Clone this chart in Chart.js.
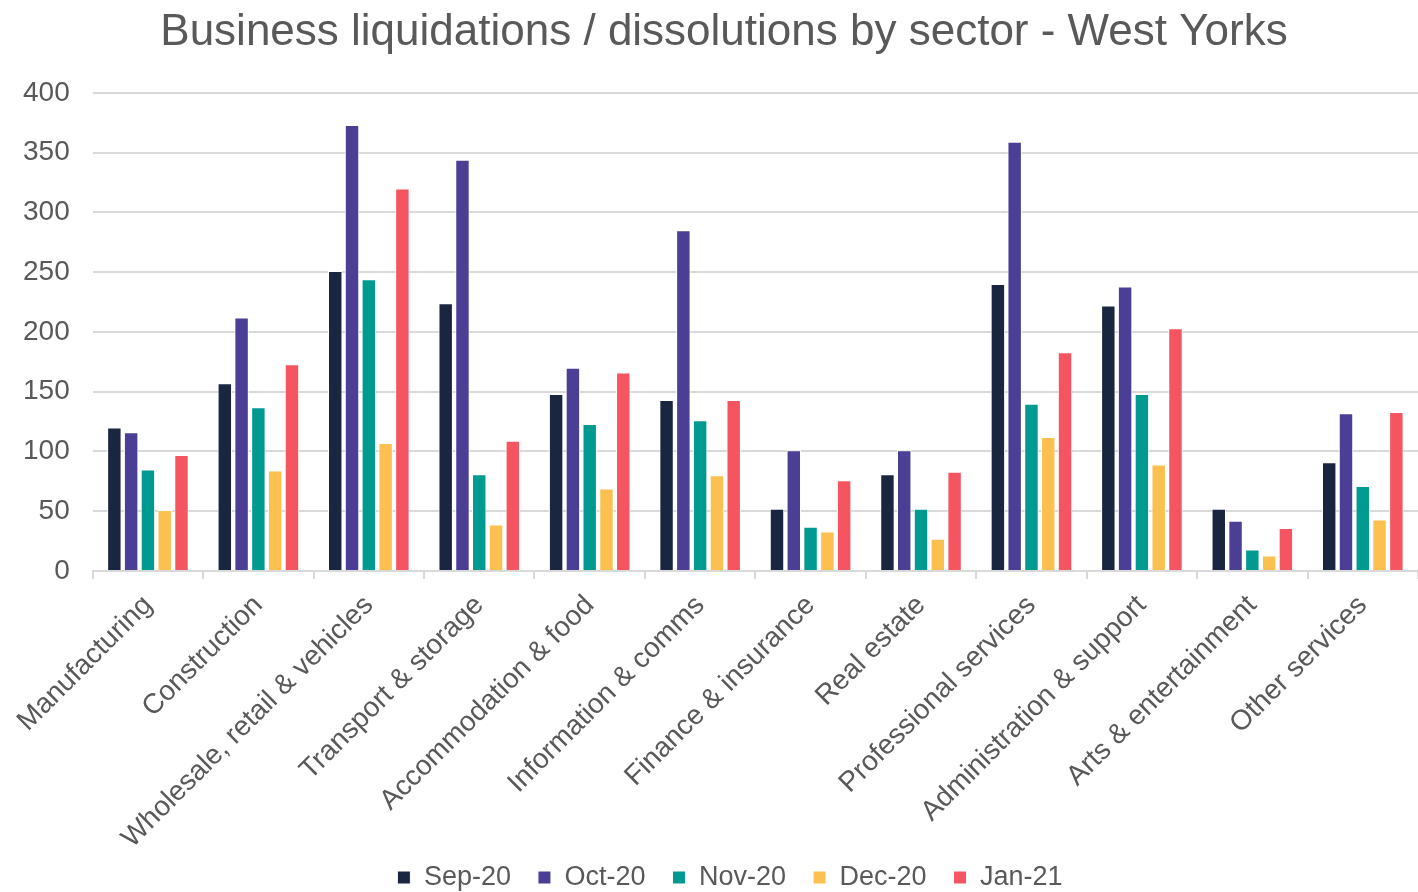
<!DOCTYPE html>
<html>
<head>
<meta charset="utf-8">
<script src="https://cdn.jsdelivr.net/npm/chart.js@4"></script>
<style>
  html, body { margin: 0; padding: 0; background: #ffffff; }
  #wrap { width: 1418px; height: 892px; }
</style>
</head>
<body>
<div id="wrap"><canvas id="chart" width="1418" height="892"></canvas></div>
<script>
// Sectors along the x axis
const sectors = [
  'Manufacturing', 'Construction', 'Wholesale, retail & vehicles', 'Transport & storage',
  'Accommodation & food', 'Information & comms', 'Finance & insurance', 'Real estate',
  'Professional services', 'Administration & support', 'Arts & entertainment', 'Other services'
];

// Monthly counts per sector
const months = ['Sep-20', 'Oct-20', 'Nov-20', 'Dec-20', 'Jan-21'];
const sep20 = [120, 157, 251, 224, 148, 143, 52, 81, 240, 222, 52, 91];
const oct20 = [116, 212, 373, 344, 170, 285, 101, 101, 359, 238, 42, 132];
const nov20 = [85, 137, 244, 81, 123, 126, 37, 52, 140, 148, 18, 71];
const dec20 = [51, 84, 107, 39, 69, 80, 33, 27, 112, 89, 13, 43];
const jan21 = [97, 173, 320, 109, 166, 143, 76, 83, 183, 203, 36, 133];

const yTicks = [0, 50, 100, 150, 200, 250, 300, 350, 400];

const seriesValues = [sep20, oct20, nov20, dec20, jan21];
const seriesColors = ['#1a2640', '#4a3f94', '#009a90', '#fbc04f', '#f55560'];

const FONT = '"Liberation Sans", Arial, sans-serif';
const TEXT = '#595959';

// Nudges the title and legend so they sit centred over the plot, and lifts the
// legend slightly so the long rotated sector labels keep their full box
const placeHeaderAndLegend = {
  id: 'placeHeaderAndLegend',
  afterLayout(chart) {
    const shift = (box, dx, dy) => {
      if (!box) return;
      box.left += dx; box.right += dx;
      box.top += dy; box.bottom += dy;
    };
    shift(chart.titleBlock, 15, 0);
    shift(chart.legend, 21, -15);
  }
};

new Chart(document.getElementById('chart'), {
  type: 'bar',
  data: {
    labels: sectors,
    datasets: months.map((m, i) => ({
      label: m,
      data: seriesValues[i],
      backgroundColor: seriesColors[i],
      borderColor: '#ffffff',
      borderWidth: 1,
      categoryPercentage: 0.76,
      barPercentage: 0.86
    }))
  },
  plugins: [placeHeaderAndLegend],
  options: {
    responsive: false,
    animation: false,
    layout: { padding: { left: 0, right: 0, top: 0, bottom: -24 } },
    plugins: {
      title: {
        display: true,
        text: 'Business liquidations / dissolutions by sector - West Yorks',
        color: TEXT,
        font: { family: FONT, size: 44, weight: 'normal' },
        padding: { top: 6, bottom: 34 }
      },
      legend: {
        position: 'bottom',
        labels: {
          color: TEXT,
          font: { family: FONT, size: 27 },
          boxWidth: 13,
          boxHeight: 13,
          padding: 27
        }
      },
      tooltip: { enabled: false }
    },
    scales: {
      x: {
        afterFit: (scale) => { scale.height = 281; },
        grid: {
          offset: true,
          drawOnChartArea: false,
          drawTicks: true,
          tickLength: 8,
          color: '#d9d9d9',
          lineWidth: 2
        },
        border: { display: true, color: '#d9d9d9', width: 2 },
        ticks: {
          color: TEXT,
          font: { family: FONT, size: 28 },
          maxRotation: 45,
          minRotation: 45,
          autoSkip: false,
          padding: 10
        }
      },
      y: {
        min: 0,
        max: 400,
        afterBuildTicks: (axis) => { axis.ticks = yTicks.map(v => ({ value: v })); },
        grid: { color: '#d9d9d9', lineWidth: 2, drawTicks: false },
        border: { display: false },
        ticks: {
          color: TEXT,
          font: { family: FONT, size: 28 },
          padding: 23
        }
      }
    }
  }
});
</script>
</body>
</html>
